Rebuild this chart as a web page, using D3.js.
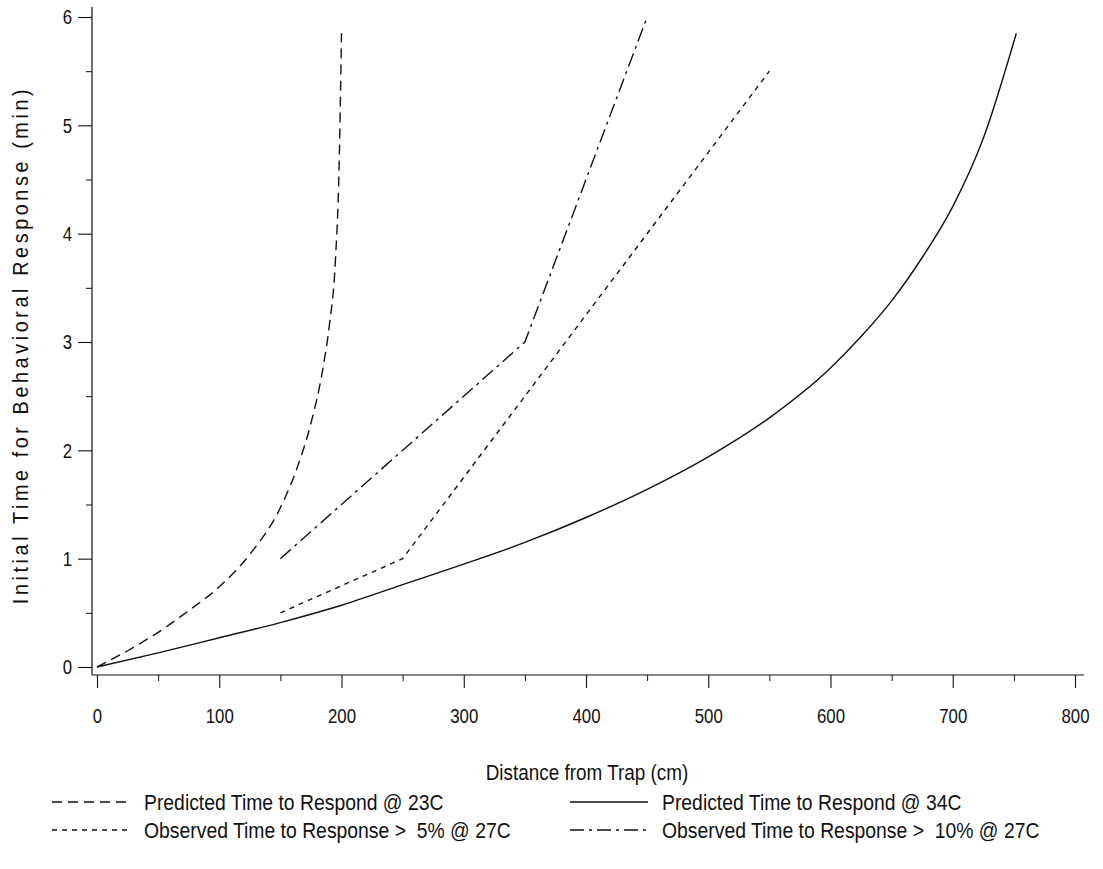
<!DOCTYPE html>
<html>
<head>
  <meta charset="utf-8">
  <title>Time to Respond</title>
  <script src="https://cdn.jsdelivr.net/npm/d3@7/dist/d3.min.js"></script>
  <style>
    body { margin: 0; background: #fff; }
    text { font-family: 'Liberation Sans Narrow', 'Arial Narrow', 'Liberation Sans', sans-serif; fill: #111; }
  </style>
</head>
<body>
  <svg width="1103" height="869" id="mainsvg"></svg>
  <script>
    // data
    const xTicks = [0, 100, 200, 300, 400, 500, 600, 700, 800];
    const yTicks = [0, 1, 2, 3, 4, 5, 6];

    const dist23 = [0, 25, 50, 75, 100, 125, 150, 165, 175, 185, 190, 195, 198, 200];
    const time23 = [0, 0.15, 0.32, 0.52, 0.74, 1.04, 1.47, 1.88, 2.25, 2.77, 3.15, 3.75, 4.6, 5.85];

    const dist34 = [0, 50, 100, 150, 200, 250, 300, 350, 400, 450, 500, 550, 600, 625, 650, 675, 700, 725, 752];
    const time34 = [0, 0.13, 0.27, 0.41, 0.57, 0.76, 0.95, 1.15, 1.38, 1.64, 1.94, 2.3, 2.76, 3.05, 3.38, 3.78, 4.25, 4.88, 5.85];

    const dist5 = [150, 250, 550];
    const time5 = [0.5, 1.0, 5.5];

    const dist10 = [150, 350, 450];
    const time10 = [1, 3, 6];

    const seriesNames = [
      'Predicted Time to Respond @ 23C',
      'Predicted Time to Respond @ 34C',
      'Observed Time to Response >  5% @ 27C',
      'Observed Time to Response >  10% @ 27C'
    ];

    const svg = d3.select('#mainsvg');
    const xScale = d3.scaleLinear().domain([0, 800]).range([97, 1075]);
    const yScale = d3.scaleLinear().domain([0, 6]).range([667, 17]);

    // frame lines sit a bit outside the 0 values
    const axisX = 92, axisY = 675;
    const ink = '#111';
    const squeeze = 0.8; // the original type is a condensed face

    svg.append('line').attr('x1', axisX).attr('x2', axisX).attr('y1', 7).attr('y2', axisY)
      .attr('stroke', ink).attr('stroke-width', 1.2);
    svg.append('line').attr('x1', axisX).attr('x2', 1084).attr('y1', axisY).attr('y2', axisY)
      .attr('stroke', ink).attr('stroke-width', 1.2);

    // x axis: major + minor ticks
    const xAxis = d3.axisBottom(xScale).tickValues(xTicks).tickSize(13).tickPadding(20).tickSizeOuter(0);
    const xg = svg.append('g').attr('transform', `translate(0,${axisY})`).call(xAxis);
    xg.select('.domain').remove();
    xg.selectAll('.tick line').attr('stroke', ink).attr('stroke-width', 1.1);
    xg.selectAll('.tick text').attr('font-size', 21).attr('fill', ink)
      .attr('transform', `scale(${squeeze},1)`);
    const xMinor = d3.axisBottom(xScale).tickValues(d3.range(50, 800, 100)).tickSize(6).tickFormat('');
    const xm = svg.append('g').attr('transform', `translate(0,${axisY})`).call(xMinor);
    xm.select('.domain').remove();
    xm.selectAll('.tick line').attr('stroke', ink).attr('stroke-width', 1);

    // y axis
    const yAxis = d3.axisLeft(yScale).tickValues(yTicks).tickFormat(d3.format('d'))
      .tickSize(14).tickPadding(6).tickSizeOuter(0);
    const yg = svg.append('g').attr('transform', `translate(${axisX},0)`).call(yAxis);
    yg.select('.domain').remove();
    yg.selectAll('.tick line').attr('stroke', ink).attr('stroke-width', 1.1);
    yg.selectAll('.tick text').attr('font-size', 21).attr('fill', ink)
      .attr('x', -20 / squeeze)
      .attr('transform', `scale(${squeeze},1)`);
    const yMinor = d3.axisLeft(yScale).tickValues(d3.range(0.5, 6, 1)).tickSize(6).tickFormat('');
    const ym = svg.append('g').attr('transform', `translate(${axisX},0)`).call(yMinor);
    ym.select('.domain').remove();
    ym.selectAll('.tick line').attr('stroke', ink).attr('stroke-width', 1);

    // axis titles
    svg.append('text')
      .attr('transform', 'translate(587,780) scale(0.86,1)')
      .attr('text-anchor', 'middle').attr('font-size', 22)
      .text('Distance from Trap (cm)');
    svg.append('text')
      .attr('transform', 'translate(28,345) rotate(-90) scale(0.9,1)')
      .attr('text-anchor', 'middle').attr('font-size', 22)
      .attr('letter-spacing', 4)
      .text('Initial Time for Behavioral Response (min)');

    // series
    const series = [
      { name: seriesNames[0], xs: dist23, ys: time23, dash: '10,6', smooth: true },
      { name: seriesNames[1], xs: dist34, ys: time34, dash: null, smooth: true },
      { name: seriesNames[2], xs: dist5, ys: time5, dash: '5,5', smooth: false },
      { name: seriesNames[3], xs: dist10, ys: time10, dash: '14,5,3,5', smooth: false }
    ];

    series.forEach(s => {
      const pts = s.xs.map((x, i) => [x, s.ys[i]]);
      const line = d3.line()
        .x(d => xScale(d[0]))
        .y(d => yScale(d[1]))
        .curve(s.smooth ? d3.curveMonotoneX : d3.curveLinear);
      svg.append('path').datum(pts)
        .attr('fill', 'none')
        .attr('stroke', ink)
        .attr('stroke-width', 1.4)
        .attr('stroke-dasharray', s.dash)
        .attr('d', line);
    });

    // legend, two columns
    const legendPos = [
      { x: 52, y: 802 }, { x: 570, y: 802 },
      { x: 52, y: 830 }, { x: 570, y: 830 }
    ];
    series.forEach((s, i) => {
      const p = legendPos[i];
      const lg = svg.append('g').attr('transform', `translate(${p.x},${p.y})`);
      lg.append('line').attr('x1', 0).attr('x2', 78).attr('y1', 0).attr('y2', 0)
        .attr('stroke', ink).attr('stroke-width', 1.3)
        .attr('stroke-dasharray', s.dash);
      lg.append('text').attr('transform', 'translate(92,8) scale(0.88,1)')
        .attr('font-size', 22).style('white-space', 'pre').text(s.name);
    });
  </script>
</body>
</html>
